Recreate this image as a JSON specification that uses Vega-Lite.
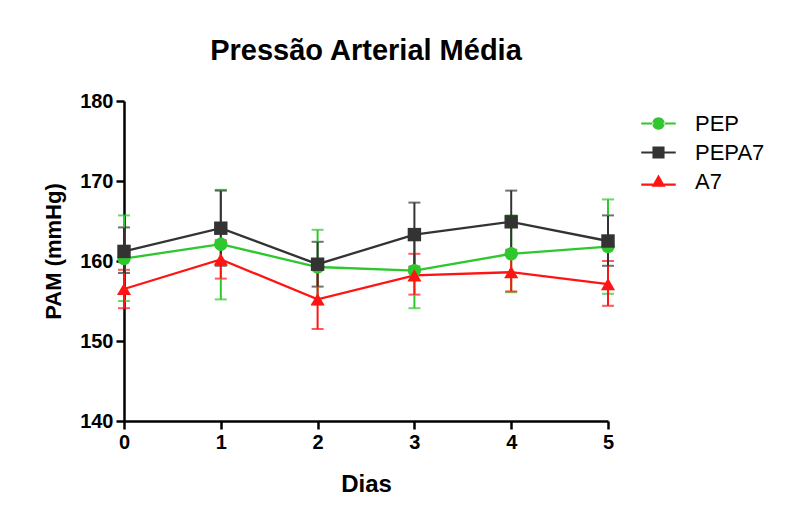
{
  "$schema": "https://vega.github.io/schema/vega-lite/v6.json",
  "autosize": {"type": "none"},
  "padding": {"left": 124, "top": 101, "right": 190, "bottom": 97},
  "width": 484,
  "height": 320,
  "background": "white",
  "title": {
    "text": "Pressão Arterial Média",
    "font": "Liberation Sans",
    "fontSize": 29,
    "fontWeight": "bold",
    "color": "black",
    "anchor": "middle",
    "offset": 25
  },
  "data": {
    "values": [
      {"series": "PEP", "dia": 0, "mean": 160.3, "lo": 155.0, "hi": 165.7},
      {"series": "PEP", "dia": 1, "mean": 162.1, "lo": 155.2, "hi": 168.9},
      {"series": "PEP", "dia": 2, "mean": 159.25, "lo": 154.6, "hi": 163.9},
      {"series": "PEP", "dia": 3, "mean": 158.8, "lo": 154.1, "hi": 163.5},
      {"series": "PEP", "dia": 4, "mean": 160.9, "lo": 156.1, "hi": 165.7},
      {"series": "PEP", "dia": 5, "mean": 161.8, "lo": 155.9, "hi": 167.7},
      {"series": "A7", "dia": 0, "mean": 156.5, "lo": 154.1, "hi": 158.9},
      {"series": "A7", "dia": 1, "mean": 160.2, "lo": 157.8, "hi": 162.6},
      {"series": "A7", "dia": 2, "mean": 155.2, "lo": 151.5, "hi": 158.9},
      {"series": "A7", "dia": 3, "mean": 158.2, "lo": 155.8, "hi": 160.9},
      {"series": "A7", "dia": 4, "mean": 158.6, "lo": 156.2, "hi": 161.4},
      {"series": "A7", "dia": 5, "mean": 157.1, "lo": 154.4, "hi": 160.0},
      {"series": "PEPA7", "dia": 0, "mean": 161.2, "lo": 158.5, "hi": 164.2},
      {"series": "PEPA7", "dia": 1, "mean": 164.1, "lo": 159.4, "hi": 168.8},
      {"series": "PEPA7", "dia": 2, "mean": 159.6, "lo": 156.8, "hi": 162.4},
      {"series": "PEPA7", "dia": 3, "mean": 163.3, "lo": 159.3, "hi": 167.3},
      {"series": "PEPA7", "dia": 4, "mean": 164.9, "lo": 161.0, "hi": 168.8},
      {"series": "PEPA7", "dia": 5, "mean": 162.5, "lo": 159.4, "hi": 165.7}
    ]
  },
  "encoding": {
    "x": {
      "field": "dia", "type": "quantitative",
      "scale": {"domain": [0, 5], "nice": false, "zero": false},
      "axis": {"values": [0, 1, 2, 3, 4, 5], "title": "Dias", "grid": false, "labelFlush": false, "titleFontSize": 24, "titlePadding": 20}
    },
    "y": {"field": "mean", "type": "quantitative", "scale": {"domain": [140, 180], "nice": false, "zero": false},
          "axis": {"values": [140, 150, 160, 170, 180], "title": "PAM (mmHg)", "titlePadding": 14, "titleFontSize": 22, "titleY": 150}},
    "color": {
      "field": "series", "type": "nominal",
      "scale": {"domain": ["PEP", "PEPA7", "A7"], "range": ["#2ec72e", "#333333", "#ff1414"]},
      "legend": {
        "title": null,
        "orient": "none",
        "legendX": 517,
        "legendY": 5,
        "padding": 0,
        "rowPadding": 0,
        "symbolSize": 1190,
        "symbolStrokeWidth": 0,
        "symbolOpacity": 1,
        "labelOffset": 19,
        "labelFont": "Liberation Sans",
        "labelFontSize": 22,
        "labelColor": "black"
      }
    }
  },
  "layer": [
    {
      "mark": {"type": "errorbar", "ticks": {"size": 12, "thickness": 2}, "rule": {"strokeWidth": 2}},
      "encoding": {
        "y": {"field": "lo", "type": "quantitative", "title": "PAM (mmHg)"},
        "y2": {"field": "hi"}
      }
    },
    {
      "mark": {"type": "line", "strokeWidth": 2.3}
    },
    {
      "mark": {"type": "point", "filled": true, "opacity": 1, "size": 0, "strokeWidth": 0},
      "encoding": {
        "shape": {
          "field": "series", "type": "nominal",
          "scale": {
            "domain": ["PEP", "PEPA7", "A7"],
            "range": [
              "M-0.36,0A0.36,0.36 0 1,0 0.36,0A0.36,0.36 0 1,0 -0.36,0Z M-1,-0.06H-0.3V0.06H-1Z M0.3,-0.06H1V0.06H0.3Z",
              "M-0.35,-0.35H0.35V0.35H-0.35Z M-1,-0.06H-0.3V0.06H-1Z M0.3,-0.06H1V0.06H0.3Z",
              "M0,-0.4L0.4,0.3H-0.4Z M-1,0.12H-0.3V0.24H-1Z M0.3,0.12H1V0.24H0.3Z"
            ]
          }
        }
      }
    },
    {
      "transform": [{"filter": "datum.series === 'PEP'"}],
      "mark": {"type": "circle", "opacity": 1, "size": 180}
    },
    {
      "transform": [{"filter": "datum.series === 'A7'"}],
      "mark": {"type": "point", "shape": "triangle-up", "filled": true, "opacity": 1, "size": 200, "strokeWidth": 0}
    },
    {
      "transform": [{"filter": "datum.series === 'PEPA7'"}],
      "mark": {"type": "square", "opacity": 1, "size": 180}
    }
  ],
  "config": {
    "view": {"stroke": null},
    "axis": {
      "domainColor": "black",
      "domainWidth": 2.5,
      "tickColor": "black",
      "tickWidth": 2.5,
      "tickSize": 8,
      "grid": false,
      "labelFont": "Liberation Sans",
      "labelFontWeight": "bold",
      "labelFontSize": 20,
      "labelColor": "black",
      "labelPadding": 3,
      "titleFont": "Liberation Sans",
      "titleFontWeight": "bold",
      "titleFontSize": 21,
      "titleColor": "black"
    }
  }
}
